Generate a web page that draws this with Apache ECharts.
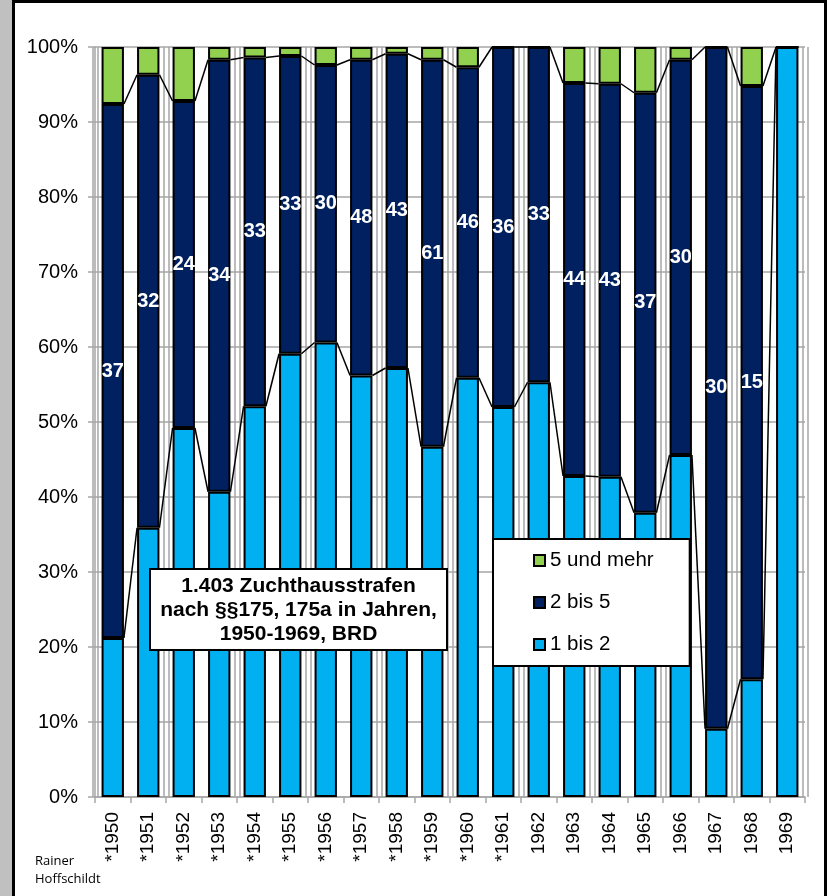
<!DOCTYPE html>
<html>
<head>
<meta charset="utf-8">
<script src="https://cdn.jsdelivr.net/npm/echarts@6/dist/echarts.min.js"></script>
<style>
  html, body { margin: 0; padding: 0; background: #fff; }
  #chart { width: 827px; height: 896px; }
</style>
</head>
<body>
<div id="chart"></div>
<script>
// Jahre (* = markiert)
var years = ['*1950', '*1951', '*1952', '*1953', '*1954', '*1955', '*1956', '*1957', '*1958', '*1959',
             '*1960', '*1961', '1962', '1963', '1964', '1965', '1966', '1967', '1968', '1969'];

// Anteile in Prozent
var oneToTwo   = [21.2, 35.9, 49.2, 40.7, 52.1, 59.1, 60.6, 56.2, 57.2, 46.7,
                  55.9, 52.0, 55.3, 42.8, 42.7, 37.9, 45.6, 9.1, 15.7, 100];
var twoToFive  = [71.2, 60.4, 43.6, 57.6, 46.5, 39.7, 37.0, 42.1, 41.9, 51.6,
                  41.4, 48.0, 44.7, 52.4, 52.4, 56.0, 52.7, 90.9, 79.1, 0];
var fiveOrMore = [7.6, 3.7, 7.2, 1.7, 1.4, 1.2, 2.4, 1.7, 0.9, 1.7,
                  2.7, 0, 0, 4.8, 4.9, 6.1, 1.7, 0, 5.2, 0];

// Zahlen in den dunklen Balken
var twoToFiveCounts = [37, 32, 24, 34, 33, 33, 30, 48, 43, 61,
                       46, 36, 33, 44, 43, 37, 30, 30, 15, null];

var yTicks = [0, 10, 20, 30, 40, 50, 60, 70, 80, 90, 100];

var chart = echarts.init(document.getElementById('chart'));

var font = "'Liberation Sans', Arial, sans-serif";
var gridGrey = '#a6a6a6';
var barPct = 0.63;

// Verbindungslinien zwischen den Balken (Excel "Reihenlinien")
var lowTop = oneToTwo;
var midTop = oneToTwo.map(function(v, i) { return v + twoToFive[i]; });
var seriesLines = [];
for (var i = 0; i < years.length - 1; i++) {
    seriesLines.push([i, lowTop[i], lowTop[i + 1], midTop[i], midTop[i + 1]]);
}

function splitGridAxis(idx) {
    return {
        type: 'category', gridIndex: idx, data: years, boundaryGap: true,
        axisLine: {show: false}, axisTick: {show: false}, axisLabel: {show: false},
        splitLine: {show: true, lineStyle: {color: gridGrey, width: 1.5}}
    };
}

chart.setOption({
    backgroundColor: '#fff',
    animation: false,
    grid: [
        {left: 95, right: 22, top: 47, bottom: 99},
        {left: 92.5, right: 24.5, top: 47, bottom: 99},
        {left: 97.5, right: 19.5, top: 47, bottom: 99}
    ],
    legend: {
        orient: 'vertical',
        left: 493, top: 539,
        data: ['5 und mehr', '2 bis 5', '1 bis 2'],
        icon: 'rect',
        itemWidth: 11, itemHeight: 11, itemGap: 21,
        padding: [11, 36, 11, 40],
        backgroundColor: '#fff',
        borderColor: '#000', borderWidth: 2,
        textStyle: {fontFamily: font, fontSize: 20.5, color: '#000'},
        z: 10
    },
    xAxis: [
        {
            type: 'category', gridIndex: 0, data: years, boundaryGap: true,
            axisLine: {lineStyle: {color: gridGrey, width: 1.5}},
            axisTick: {show: true, length: 6, lineStyle: {color: gridGrey, width: 1.5}},
            axisLabel: {rotate: 90, interval: 0, margin: 15, fontFamily: font, fontSize: 19, color: '#000'},
            splitLine: {show: false}
        },
        splitGridAxis(1),
        splitGridAxis(2)
    ],
    yAxis: [
        {
            type: 'value', gridIndex: 0, min: yTicks[0], max: yTicks[yTicks.length - 1], interval: 10,
            axisLine: {show: true, lineStyle: {color: gridGrey, width: 1.5}},
            axisTick: {show: true, length: 7, lineStyle: {color: gridGrey, width: 1.5}},
            axisLabel: {formatter: '{value}%', margin: 17, fontFamily: font, fontSize: 20, color: '#000'},
            splitLine: {show: true, lineStyle: {color: gridGrey, width: 1.5}}
        },
        {type: 'value', gridIndex: 1, min: 0, max: 100, show: false},
        {type: 'value', gridIndex: 2, min: 0, max: 100, show: false}
    ],
    series: [
        {
            name: '1 bis 2', type: 'bar', stack: 'a', barWidth: (barPct * 100) + '%',
            data: oneToTwo,
            itemStyle: {color: '#00b0f0', borderColor: '#000', borderWidth: 2}
        },
        {
            name: '2 bis 5', type: 'bar', stack: 'a',
            data: twoToFive,
            itemStyle: {color: '#002060', borderColor: '#000', borderWidth: 2},
            label: {
                show: true, position: 'inside', color: '#fff',
                fontFamily: font, fontSize: 20, fontWeight: 'bold',
                formatter: function(p) {
                    var c = twoToFiveCounts[p.dataIndex];
                    return c == null ? '' : String(c);
                }
            }
        },
        {
            name: '5 und mehr', type: 'bar', stack: 'a',
            data: fiveOrMore,
            itemStyle: {color: '#92d050', borderColor: '#000', borderWidth: 2}
        },
        {
            type: 'custom', xAxisIndex: 0, yAxisIndex: 0,
            data: seriesLines,
            encode: {x: 0, y: 1},
            z: 3,
            silent: true,
            renderItem: function(params, api) {
                var idx = api.value(0);
                var half = api.size([1, 0])[0] * barPct / 2;
                var a1 = api.coord([idx, api.value(1)]);
                var b1 = api.coord([idx + 1, api.value(2)]);
                var a2 = api.coord([idx, api.value(3)]);
                var b2 = api.coord([idx + 1, api.value(4)]);
                var st = {stroke: '#000', lineWidth: 1.5};
                return {
                    type: 'group',
                    children: [
                        {type: 'line', shape: {x1: a1[0] + half, y1: a1[1], x2: b1[0] - half, y2: b1[1]}, style: st},
                        {type: 'line', shape: {x1: a2[0] + half, y1: a2[1], x2: b2[0] - half, y2: b2[1]}, style: st}
                    ]
                };
            }
        }
    ],
    graphic: [
        // Rahmen
        {type: 'rect', z: 100, shape: {x: 0, y: 0, width: 12, height: 896}, style: {fill: '#c0c0c0'}},
        {type: 'rect', z: 100, shape: {x: 13.5, y: 1.5, width: 812, height: 905},
         style: {fill: null, stroke: '#000', lineWidth: 3}},
        // Titelkasten
        {type: 'rect', z: 100, shape: {x: 150, y: 569, width: 297, height: 81},
         style: {fill: '#fff', stroke: '#000', lineWidth: 2}},
        {type: 'text', z: 101, x: 298.5, y: 610,
         style: {
             text: '1.403 Zuchthausstrafen\nnach §§175, 175a in Jahren,\n1950-1969, BRD',
             font: 'bold 21px ' + font, fill: '#000',
             textAlign: 'center', textVerticalAlign: 'middle', lineHeight: 24
         }},
        // Autor
        {type: 'text', z: 100, x: 35, y: 852,
         style: {text: 'Rainer\nHoffschildt', font: "13px 'Open Sans', sans-serif", fill: '#000', lineHeight: 18}}
    ]
});
</script>
</body>
</html>
